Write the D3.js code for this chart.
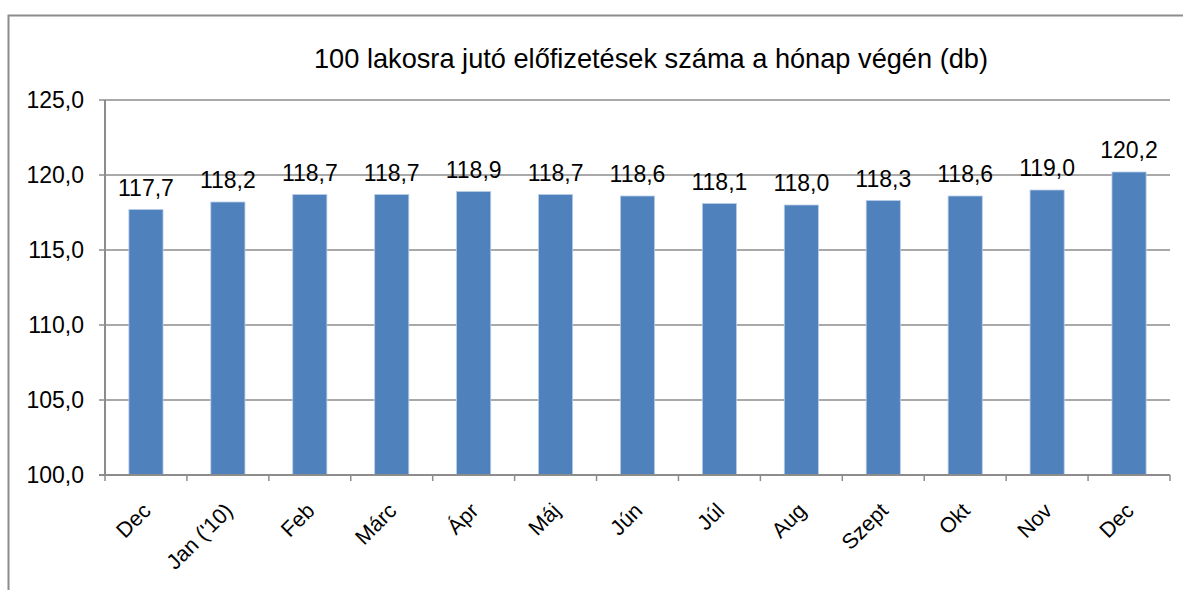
<!DOCTYPE html>
<html><head><meta charset="utf-8">
<script src="https://cdn.jsdelivr.net/npm/d3@7"></script>
<style>body{margin:0;background:#fff}svg{display:block}</style>
</head><body>
<script>
const categories = ["Dec","Jan ('10)","Feb","Márc","Ápr","Máj","Jún","Júl","Aug","Szept","Okt","Nov","Dec"];
const values = [117.7,118.2,118.7,118.7,118.9,118.7,118.6,118.1,118.0,118.3,118.6,119.0,120.2];
const yTicks = [100,105,110,115,120,125];
const title = "100 lakosra jutó előfizetések száma a hónap végén (db)";

const W = 1183, H = 590;
const svg = d3.select("body").append("svg").attr("width", W).attr("height", H);
svg.append("rect").attr("width", W).attr("height", H).attr("fill", "#fff");

// outer frame
svg.append("path").attr("d", `M8.5,${H} V15.5 H${W}`).attr("fill","none").attr("stroke","#8c8c8c").attr("stroke-width",2);

const pLeft = 105, pRight = 1170, pTop = 100, pBottom = 475;
const x = d3.scaleBand().domain(d3.range(categories.length)).range([pLeft, pRight]).paddingInner(0).paddingOuter(0);
const y = d3.scaleLinear().domain([100,125]).range([pBottom, pTop]);

// gridlines
svg.append("g").selectAll("line").data(yTicks).join("line")
  .attr("x1", pLeft - 6).attr("x2", pRight).attr("y1", d => y(d)).attr("y2", d => y(d))
  .attr("stroke", "#8c8c8c").attr("stroke-width", 1.5);

// y labels
const fmt = v => d3.format(".1f")(v).replace(".", ",");
svg.append("g").selectAll("text").data(yTicks).join("text")
  .attr("x", 84).attr("y", d => y(d)).attr("dy", "0.36em").attr("text-anchor", "end")
  .attr("font-family", "Liberation Sans, Arial, sans-serif").attr("font-size", 23).attr("fill", "#000")
  .text(fmt);

// bars
const bw = x.bandwidth() / 2.4;
svg.append("g").selectAll("rect").data(values).join("rect")
  .attr("x", (d,i) => x(i) + (x.bandwidth() - bw)/2).attr("width", bw)
  .attr("y", d => y(d)).attr("height", d => y(100) - y(d))
  .attr("fill", "#4f81bd").attr("stroke", "#b9cde5").attr("stroke-width", 0.8);

// axes lines
svg.append("line").attr("x1", pLeft).attr("x2", pLeft).attr("y1", pTop).attr("y2", pBottom + 1)
  .attr("stroke", "#8c8c8c").attr("stroke-width", 2);
svg.append("line").attr("x1", pLeft - 6).attr("x2", pRight).attr("y1", pBottom).attr("y2", pBottom)
  .attr("stroke", "#8c8c8c").attr("stroke-width", 2);
// x ticks at category boundaries
const bounds = d3.range(categories.length + 1).map(i => pLeft + i * x.step());
svg.append("g").selectAll("line").data(bounds).join("line")
  .attr("x1", d => d).attr("x2", d => d).attr("y1", pBottom).attr("y2", pBottom + 6)
  .attr("stroke", "#8c8c8c").attr("stroke-width", 1.5);

// data labels
svg.append("g").selectAll("text").data(values).join("text")
  .attr("x", (d,i) => x(i) + x.bandwidth()/2).attr("y", d => y(d) - 14)
  .attr("text-anchor", "middle")
  .attr("font-family", "Liberation Sans, Arial, sans-serif").attr("font-size", 23).attr("fill", "#000")
  .text(fmt);

// x labels
svg.append("g").selectAll("text").data(categories).join("text")
  .attr("transform", (d,i) => `translate(${x(i) + x.bandwidth()/2 - 3},${pBottom + 28}) rotate(-45)`)
  .attr("text-anchor", "end").attr("dy", "0.6em")
  .attr("font-family", "Liberation Sans, Arial, sans-serif").attr("font-size", 21.5).attr("fill", "#000")
  .text(d => d);

// title
svg.append("text").attr("x", 651).attr("y", 68).attr("text-anchor", "middle")
  .attr("font-family", "Liberation Sans Narrow, Liberation Sans, Arial, sans-serif").attr("font-size", 28)
  .attr("textLength", 674).attr("lengthAdjust", "spacingAndGlyphs")
  .attr("fill", "#000").text(title);
</script>
</body></html>
